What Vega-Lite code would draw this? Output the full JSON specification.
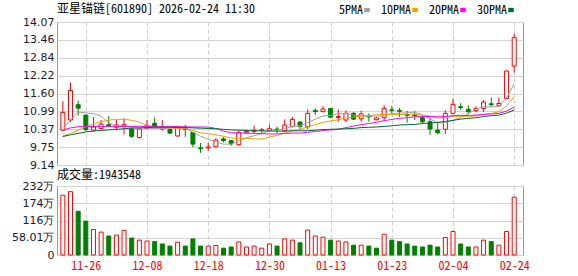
{
  "$schema": "https://vega.github.io/schema/vega-lite/v6.json",
  "background": "white",
  "padding": {"left": 5, "top": 2, "right": 5, "bottom": 2},
  "spacing": -3,
  "config": {
    "view": {"stroke": "#999999", "strokeWidth": 1},
    "axis": {"domain": false, "ticks": false, "title": null, "gridColor": "#d4d4d4", "gridWidth": 1, "labelFont": "DejaVu Sans", "labelFontSize": 11, "labelColor": "#1a1a2e", "labelOverlap": false},
    "title": {"font": "Noto Sans Mono CJK SC, Liberation Mono, Noto Sans CJK SC", "fontSize": 12, "fontWeight": "normal", "color": "#000000", "anchor": "start", "frame": "group"}
  },
  "resolve": {"scale": {"x": "independent", "y": "independent", "color": "independent"}, "legend": {"color": "independent"}},
  "datasets": {
    "k": [
      {"i":0,"d":"11-21","o":10.34,"h":11.34,"l":10.32,"c":10.95,"v":2010000,"vd":"up","ma5":10.40,"ma10":10.14,"ma20":10.34,"ma30":10.12},
      {"i":1,"d":"11-24","o":10.69,"h":11.98,"l":10.62,"c":11.71,"v":2130000,"vd":"up","ma5":10.69,"ma10":10.23,"ma20":10.42,"ma30":10.18},
      {"i":2,"d":"11-25","o":11.22,"h":11.36,"l":10.84,"c":11.10,"v":1470000,"vd":"down","ma5":10.96,"ma10":10.34,"ma20":10.46,"ma30":10.23},
      {"i":3,"d":"11-26","o":10.86,"h":10.88,"l":10.30,"c":10.36,"v":1140000,"vd":"down","ma5":10.94,"ma10":10.46,"ma20":10.47,"ma30":10.28},
      {"i":4,"d":"11-27","o":10.34,"h":10.79,"l":10.30,"c":10.45,"v":860000,"vd":"up","ma5":10.91,"ma10":10.56,"ma20":10.47,"ma30":10.31},
      {"i":5,"d":"11-28","o":10.40,"h":10.69,"l":10.38,"c":10.55,"v":770000,"vd":"up","ma5":10.83,"ma10":10.63,"ma20":10.47,"ma30":10.33},
      {"i":6,"d":"12-01","o":10.53,"h":10.83,"l":10.48,"c":10.50,"v":640000,"vd":"down","ma5":10.59,"ma10":10.69,"ma20":10.47,"ma30":10.35},
      {"i":7,"d":"12-02","o":10.44,"h":10.69,"l":10.36,"c":10.52,"v":670000,"vd":"up","ma5":10.48,"ma10":10.71,"ma20":10.47,"ma30":10.37},
      {"i":8,"d":"12-03","o":10.47,"h":10.75,"l":10.20,"c":10.53,"v":830000,"vd":"up","ma5":10.50,"ma10":10.72,"ma20":10.47,"ma30":10.39},
      {"i":9,"d":"12-04","o":10.38,"h":10.42,"l":10.07,"c":10.13,"v":570000,"vd":"down","ma5":10.43,"ma10":10.68,"ma20":10.47,"ma30":10.41},
      {"i":10,"d":"12-05","o":10.09,"h":10.40,"l":10.05,"c":10.38,"v":500000,"vd":"up","ma5":10.41,"ma10":10.62,"ma20":10.47,"ma30":10.42},
      {"i":11,"d":"12-08","o":10.40,"h":10.69,"l":10.38,"c":10.50,"v":470000,"vd":"up","ma5":10.41,"ma10":10.50,"ma20":10.47,"ma30":10.43},
      {"i":12,"d":"12-09","o":10.58,"h":10.78,"l":10.45,"c":10.48,"v":450000,"vd":"down","ma5":10.40,"ma10":10.44,"ma20":10.47,"ma30":10.44},
      {"i":13,"d":"12-10","o":10.38,"h":10.69,"l":10.32,"c":10.44,"v":370000,"vd":"down","ma5":10.39,"ma10":10.44,"ma20":10.47,"ma30":10.44},
      {"i":14,"d":"12-11","o":10.36,"h":10.42,"l":10.20,"c":10.24,"v":300000,"vd":"down","ma5":10.41,"ma10":10.42,"ma20":10.47,"ma30":10.44},
      {"i":15,"d":"12-12","o":10.14,"h":10.48,"l":10.12,"c":10.46,"v":430000,"vd":"up","ma5":10.42,"ma10":10.41,"ma20":10.46,"ma30":10.43},
      {"i":16,"d":"12-15","o":10.40,"h":10.52,"l":10.11,"c":10.37,"v":300000,"vd":"down","ma5":10.40,"ma10":10.40,"ma20":10.46,"ma30":10.43},
      {"i":17,"d":"12-16","o":10.26,"h":10.28,"l":9.75,"c":9.86,"v":540000,"vd":"down","ma5":10.27,"ma10":10.33,"ma20":10.45,"ma30":10.42},
      {"i":18,"d":"12-17","o":9.73,"h":9.90,"l":9.56,"c":9.70,"v":300000,"vd":"down","ma5":10.13,"ma10":10.25,"ma20":10.45,"ma30":10.41},
      {"i":19,"d":"12-18","o":9.73,"h":9.90,"l":9.64,"c":9.76,"v":300000,"vd":"up","ma5":10.03,"ma10":10.22,"ma20":10.45,"ma30":10.40},
      {"i":20,"d":"12-19","o":9.77,"h":10.06,"l":9.75,"c":10.00,"v":320000,"vd":"up","ma5":9.94,"ma10":10.18,"ma20":10.40,"ma30":10.39},
      {"i":21,"d":"12-22","o":10.04,"h":10.10,"l":9.92,"c":9.98,"v":230000,"vd":"down","ma5":9.86,"ma10":10.13,"ma20":10.31,"ma30":10.37},
      {"i":22,"d":"12-23","o":9.98,"h":10.00,"l":9.80,"c":9.87,"v":270000,"vd":"down","ma5":9.86,"ma10":10.07,"ma20":10.25,"ma30":10.35},
      {"i":23,"d":"12-24","o":9.84,"h":10.34,"l":9.81,"c":10.26,"v":440000,"vd":"up","ma5":9.97,"ma10":10.05,"ma20":10.25,"ma30":10.34},
      {"i":24,"d":"12-25","o":10.25,"h":10.36,"l":10.22,"c":10.30,"v":270000,"vd":"up","ma5":10.08,"ma10":10.06,"ma20":10.24,"ma30":10.33},
      {"i":25,"d":"12-26","o":10.30,"h":10.50,"l":10.22,"c":10.34,"v":300000,"vd":"up","ma5":10.15,"ma10":10.04,"ma20":10.23,"ma30":10.32},
      {"i":26,"d":"12-29","o":10.33,"h":10.42,"l":10.22,"c":10.35,"v":230000,"vd":"up","ma5":10.22,"ma10":10.04,"ma20":10.22,"ma30":10.32},
      {"i":27,"d":"12-30","o":10.33,"h":10.53,"l":10.30,"c":10.39,"v":370000,"vd":"up","ma5":10.33,"ma10":10.10,"ma20":10.21,"ma30":10.31},
      {"i":28,"d":"12-31","o":10.38,"h":10.46,"l":10.23,"c":10.36,"v":300000,"vd":"down","ma5":10.35,"ma10":10.16,"ma20":10.21,"ma30":10.31},
      {"i":29,"d":"01-05","o":10.32,"h":10.71,"l":10.30,"c":10.52,"v":540000,"vd":"up","ma5":10.39,"ma10":10.24,"ma20":10.23,"ma30":10.31},
      {"i":30,"d":"01-06","o":10.46,"h":10.80,"l":10.44,"c":10.71,"v":500000,"vd":"up","ma5":10.47,"ma10":10.31,"ma20":10.24,"ma30":10.32},
      {"i":31,"d":"01-07","o":10.62,"h":10.64,"l":10.38,"c":10.47,"v":410000,"vd":"down","ma5":10.49,"ma10":10.36,"ma20":10.24,"ma30":10.32},
      {"i":32,"d":"01-08","o":10.46,"h":11.06,"l":10.38,"c":10.92,"v":840000,"vd":"up","ma5":10.60,"ma10":10.46,"ma20":10.27,"ma30":10.32},
      {"i":33,"d":"01-09","o":11.02,"h":11.09,"l":10.86,"c":10.98,"v":640000,"vd":"up","ma5":10.72,"ma10":10.53,"ma20":10.29,"ma30":10.34},
      {"i":34,"d":"01-12","o":10.98,"h":11.17,"l":10.96,"c":11.07,"v":600000,"vd":"up","ma5":10.83,"ma10":10.61,"ma20":10.33,"ma30":10.36},
      {"i":35,"d":"01-13","o":11.09,"h":11.10,"l":10.75,"c":10.79,"v":500000,"vd":"down","ma5":10.85,"ma10":10.66,"ma20":10.35,"ma30":10.37},
      {"i":36,"d":"01-14","o":10.78,"h":11.06,"l":10.63,"c":10.81,"v":470000,"vd":"up","ma5":10.91,"ma10":10.70,"ma20":10.37,"ma30":10.38},
      {"i":37,"d":"01-15","o":10.69,"h":11.02,"l":10.63,"c":10.92,"v":440000,"vd":"up","ma5":10.91,"ma10":10.76,"ma20":10.43,"ma30":10.39},
      {"i":38,"d":"01-16","o":10.92,"h":10.97,"l":10.69,"c":10.72,"v":330000,"vd":"down","ma5":10.86,"ma10":10.79,"ma20":10.48,"ma30":10.40},
      {"i":39,"d":"01-19","o":10.73,"h":11.01,"l":10.63,"c":10.90,"v":330000,"vd":"up","ma5":10.83,"ma10":10.83,"ma20":10.53,"ma30":10.43},
      {"i":40,"d":"01-20","o":10.83,"h":10.92,"l":10.63,"c":10.80,"v":300000,"vd":"down","ma5":10.83,"ma10":10.84,"ma20":10.57,"ma30":10.44},
      {"i":41,"d":"01-21","o":10.70,"h":10.78,"l":10.68,"c":10.76,"v":230000,"vd":"down","ma5":10.82,"ma10":10.87,"ma20":10.61,"ma30":10.45},
      {"i":42,"d":"01-22","o":10.77,"h":11.20,"l":10.68,"c":11.09,"v":700000,"vd":"up","ma5":10.85,"ma10":10.88,"ma20":10.67,"ma30":10.47},
      {"i":43,"d":"01-23","o":11.04,"h":11.17,"l":10.89,"c":11.02,"v":500000,"vd":"down","ma5":10.91,"ma10":10.89,"ma20":10.71,"ma30":10.49},
      {"i":44,"d":"01-26","o":11.02,"h":11.11,"l":10.80,"c":10.99,"v":450000,"vd":"down","ma5":10.93,"ma10":10.88,"ma20":10.75,"ma30":10.52},
      {"i":45,"d":"01-27","o":10.88,"h":11.01,"l":10.60,"c":10.85,"v":370000,"vd":"down","ma5":10.94,"ma10":10.89,"ma20":10.77,"ma30":10.53},
      {"i":46,"d":"01-28","o":10.87,"h":11.01,"l":10.69,"c":10.84,"v":300000,"vd":"down","ma5":10.96,"ma10":10.89,"ma20":10.80,"ma30":10.54},
      {"i":47,"d":"01-29","o":10.77,"h":10.82,"l":10.57,"c":10.63,"v":270000,"vd":"down","ma5":10.87,"ma10":10.86,"ma20":10.81,"ma30":10.57},
      {"i":48,"d":"01-30","o":10.63,"h":10.80,"l":10.17,"c":10.38,"v":330000,"vd":"down","ma5":10.74,"ma10":10.83,"ma20":10.81,"ma30":10.59},
      {"i":49,"d":"02-02","o":10.34,"h":10.63,"l":10.21,"c":10.25,"v":270000,"vd":"down","ma5":10.59,"ma10":10.76,"ma20":10.80,"ma30":10.61},
      {"i":50,"d":"02-03","o":10.37,"h":11.03,"l":10.21,"c":10.92,"v":590000,"vd":"up","ma5":10.60,"ma10":10.77,"ma20":10.81,"ma30":10.64},
      {"i":51,"d":"02-04","o":10.92,"h":11.43,"l":10.90,"c":11.23,"v":790000,"vd":"up","ma5":10.68,"ma10":10.82,"ma20":10.84,"ma30":10.68},
      {"i":52,"d":"02-05","o":11.15,"h":11.27,"l":11.03,"c":11.12,"v":370000,"vd":"down","ma5":10.78,"ma10":10.82,"ma20":10.85,"ma30":10.72},
      {"i":53,"d":"02-06","o":11.06,"h":11.20,"l":10.90,"c":10.98,"v":270000,"vd":"down","ma5":10.90,"ma10":10.82,"ma20":10.85,"ma30":10.75},
      {"i":54,"d":"02-09","o":11.01,"h":11.16,"l":10.96,"c":11.09,"v":270000,"vd":"up","ma5":11.07,"ma10":10.83,"ma20":10.86,"ma30":10.77},
      {"i":55,"d":"02-10","o":11.09,"h":11.38,"l":10.97,"c":11.31,"v":500000,"vd":"up","ma5":11.15,"ma10":10.88,"ma20":10.88,"ma30":10.81},
      {"i":56,"d":"02-11","o":11.25,"h":11.47,"l":11.15,"c":11.22,"v":450000,"vd":"down","ma5":11.14,"ma10":10.91,"ma20":10.90,"ma30":10.84},
      {"i":57,"d":"02-12","o":11.18,"h":11.47,"l":11.15,"c":11.26,"v":330000,"vd":"up","ma5":11.17,"ma10":10.98,"ma20":10.92,"ma30":10.86},
      {"i":58,"d":"02-13","o":11.43,"h":12.40,"l":11.40,"c":12.38,"v":790000,"vd":"up","ma5":11.45,"ma10":11.18,"ma20":11.00,"ma30":10.93},
      {"i":59,"d":"02-24","o":12.55,"h":13.67,"l":12.33,"c":13.53,"v":1943548,"vd":"up","ma5":11.94,"ma10":11.50,"ma20":11.13,"ma30":11.03}
    ]
  },
  "vconcat": [
    {
      "width": 466,
      "height": 143,
      "title": {"text": "亚星锚链[601890] 2026-02-24 11:30", "offset": -11.5},
      "data": {"name": "k"},
      "encoding": {
        "x": {
          "field": "d", "type": "ordinal", "sort": null,
          "scale": {"type": "point", "padding": 0.958, "align": 0.4},
          "axis": {"values": ["11-26","12-08","12-18","12-30","01-13","01-23","02-04","02-24"], "labels": false, "grid": true, "gridDash": [4, 3], "gridColor": "#cccccc", "minExtent": 0, "maxExtent": 0, "labelPadding": 0}
        }
      },
      "layer": [
        {
          "mark": {"type": "rule", "strokeWidth": 1},
          "encoding": {
            "y": {
              "field": "l", "type": "quantitative",
              "scale": {"domain": [9.14, 14.07], "nice": false, "zero": false},
              "axis": {"values": [9.14, 9.75, 10.37, 10.99, 11.6, 12.22, 12.84, 13.46, 14.07], "tickCount": 9, "format": ".2f", "grid": true, "labelPadding": 3, "minExtent": 51, "maxExtent": 51, "labelOverlap": false, "labelSeparation": 0}
            },
            "y2": {"field": "h"},
            "stroke": {"condition": {"test": "datum.c >= datum.o", "value": "#ff0000"}, "value": "#008000"}
          }
        },
        {
          "mark": {"type": "bar", "size": 4, "strokeWidth": 1},
          "encoding": {
            "y": {"field": "o", "type": "quantitative"},
            "y2": {"field": "c"},
            "fill": {"condition": {"test": "datum.c >= datum.o", "value": "#ffffff"}, "value": "#008000"},
            "stroke": {"condition": {"test": "datum.c >= datum.o", "value": "#ff0000"}, "value": "#008000"}
          }
        },
        {
          "mark": {"type": "line", "strokeWidth": 1},
          "encoding": {
            "y": {"field": "ma5", "type": "quantitative"},
            "color": {
              "datum": "5PMA", "type": "nominal",
              "scale": {"domain": ["5PMA", "10PMA", "20PMA", "30PMA"], "range": ["#a0a0a0", "#f0a000", "#ff00ff", "#006a33"]},
              "legend": {"title": null, "orient": "none", "legendX": 304, "legendY": -18, "direction": "horizontal", "symbolType": "M-1,-0.6H1V0.6H-1Z", "symbolSize": 9, "symbolStrokeWidth": 2.5, "labelFont": "Noto Sans Mono CJK SC, Liberation Mono", "labelFontSize": 12, "labelColor": "#000000", "labelAlign": "right", "labelOffset": -10, "columnPadding": 6, "padding": 0}
            }
          }
        },
        {
          "mark": {"type": "line", "strokeWidth": 1},
          "encoding": {"y": {"field": "ma10", "type": "quantitative"}, "color": {"datum": "10PMA", "type": "nominal"}}
        },
        {
          "mark": {"type": "line", "strokeWidth": 1},
          "encoding": {"y": {"field": "ma20", "type": "quantitative"}, "color": {"datum": "20PMA", "type": "nominal"}}
        },
        {
          "mark": {"type": "line", "strokeWidth": 1},
          "encoding": {"y": {"field": "ma30", "type": "quantitative"}, "color": {"datum": "30PMA", "type": "nominal"}}
        }
      ]
    },
    {
      "width": 466,
      "height": 69,
      "title": {"text": "成交量:1943548", "offset": -2},
      "data": {"name": "k"},
      "mark": {"type": "bar", "size": 4, "strokeWidth": 1},
      "encoding": {
        "x": {
          "field": "d", "type": "ordinal", "sort": null,
          "scale": {"type": "point", "padding": 0.958, "align": 0.4},
          "axis": {"values": ["11-26","12-08","12-18","12-30","01-13","01-23","02-04","02-24"], "labelAngle": 0, "labelColor": "#ff0000", "labelFont": "Noto Sans Mono CJK SC, Liberation Mono", "labelFontSize": 12, "labelPadding": 5, "grid": true, "gridDash": [4, 3], "gridColor": "#cccccc"}
        },
        "y": {
          "field": "v", "type": "quantitative",
          "scale": {"domain": [0, 2320400], "nice": false},
          "axis": {"values": [0, 580100, 1160200, 1740300, 2320400], "tickCount": 5, "labelExpr": "datum.value == 0 ? '0' : (datum.value < 1000000 ? format(datum.value / 10000, '.2f') : format(datum.value / 10000, '.0f')) + '万'", "grid": true, "labelPadding": 3, "minExtent": 51, "maxExtent": 51, "labelOverlap": false}
        },
        "fill": {"condition": {"test": "datum.vd == 'up'", "value": "#ffffff"}, "value": "#008000"},
        "stroke": {"condition": {"test": "datum.vd == 'up'", "value": "#ff0000"}, "value": "#008000"}
      }
    }
  ]
}
